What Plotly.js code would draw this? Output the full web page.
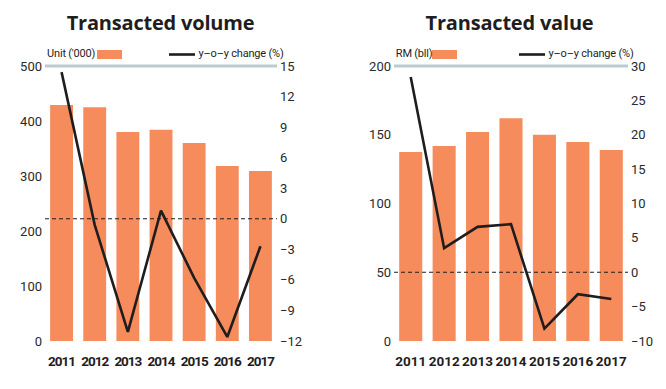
<!DOCTYPE html>
<html>
<head>
<meta charset="utf-8">
<script src="https://cdn.plot.ly/plotly-3.0.1.min.js"></script>
<style>
html,body{margin:0;padding:0;background:#fff;}
#chart{width:666px;height:389px;}
#chart .xtick text{letter-spacing:-1px;}
#chart .annotation-text{letter-spacing:-0.2px;}
</style>
</head>
<body>
<div id="chart"></div>
<script>
// Data
const years = ['2011','2012','2013','2014','2015','2016','2017'];
const volumeUnits = [429, 425, 380, 384, 360, 318, 309];
const volumeYoY = [14.4, -0.6, -11.1, 0.8, -5.8, -11.6, -2.7];
const valueRM = [137.5, 141.8, 152, 162, 150, 144.7, 139];
const valueYoY = [28.4, 3.5, 6.6, 7.0, -8.2, -3.2, -3.9];
const volTicksLeft = [0,100,200,300,400,500];
const volTicksRight = [-12,-9,-6,-3,0,3,6,9,12,15];
const valTicksLeft = [0,50,100,150,200];
const valTicksRight = [-10,-5,0,5,10,15,20,25,30];

const W = 666, H = 389;
const px = x => x / W;
const py = y => 1 - y / H;
const BAR = '#f68b5c';
const LINE = '#1f1d1e';
const tickFont = {family: 'Roboto, sans-serif', size: 13, color: '#2a2a2a'};
const yearFont = {family: 'Roboto, sans-serif', size: 13.5, color: '#1f1d1e', weight: 700};
const legFont = {family: 'Roboto, sans-serif', size: 11, color: '#1f1d1e'};
const yDom = [py(341), py(66)];

const fmt = v => v < 0 ? '\u2212' + Math.abs(v) : String(v);

const data = [
  {type:'bar', x: years, y: volumeUnits, xaxis:'x', yaxis:'y', marker:{color:BAR}, width:0.69},
  {type:'scatter', mode:'lines', x: years, y: volumeYoY, xaxis:'x', yaxis:'y2', line:{color:LINE, width:2.6}},
  {type:'bar', x: years, y: valueRM, xaxis:'x2', yaxis:'y3', marker:{color:BAR}, width:0.69},
  {type:'scatter', mode:'lines', x: years, y: valueYoY, xaxis:'x2', yaxis:'y4', line:{color:LINE, width:2.6}}
];

const xBase = {type:'category', showgrid:false, zeroline:false, showline:false, ticks:'', tickangle:0, tickfont:yearFont, ticklabelstandoff:10, fixedrange:true};
const yBase = {showgrid:false, zeroline:false, showline:false, ticks:'', tickfont:tickFont, fixedrange:true, domain:yDom};

const layout = {
  width: W, height: H,
  margin: {l:0, r:0, t:0, b:0},
  paper_bgcolor:'#fff', plot_bgcolor:'rgba(0,0,0,0)',
  showlegend:false, bargap:0.3,
  xaxis: Object.assign({}, xBase, {domain:[px(45), px(277)], anchor:'y'}),
  xaxis2: Object.assign({}, xBase, {domain:[px(394), px(628)], anchor:'y3'}),
  yaxis: Object.assign({}, yBase, {range:[0,500], tickvals:volTicksLeft, ticktext:volTicksLeft.map(fmt), anchor:'x', ticklabelstandoff:2}),
  yaxis2: Object.assign({}, yBase, {range:[-12,15], tickvals:volTicksRight, ticktext:volTicksRight.map(fmt), overlaying:'y', side:'right', anchor:'x', ticklabelstandoff:2}),
  yaxis3: Object.assign({}, yBase, {range:[0,200], tickvals:valTicksLeft, ticktext:valTicksLeft.map(fmt), anchor:'x2', ticklabelstandoff:2}),
  yaxis4: Object.assign({}, yBase, {range:[-10,30], tickvals:valTicksRight, ticktext:valTicksRight.map(fmt), overlaying:'y3', side:'right', anchor:'x2', ticklabelstandoff:2}),
  shapes: [
    {type:'line', xref:'x domain', yref:'y domain', x0:0, x1:1, y0:1, y1:1, line:{color:'#bccbd1', width:3}, layer:'below'},
    {type:'line', xref:'x2 domain', yref:'y3 domain', x0:0, x1:1, y0:1, y1:1, line:{color:'#bccbd1', width:3}, layer:'below'},
    {type:'line', xref:'x domain', yref:'y2', x0:0, x1:1, y0:0, y1:0, line:{color:'#1f1d1e', width:1, dash:'4px,3px'}, layer:'above'},
    {type:'line', xref:'x2 domain', yref:'y4', x0:0, x1:1, y0:0, y1:0, line:{color:'#1f1d1e', width:1, dash:'4px,3px'}, layer:'above'},
    {type:'rect', xref:'paper', yref:'paper', x0:px(97), x1:px(122), y0:py(59), y1:py(50), fillcolor:BAR, line:{width:0}},
    {type:'line', xref:'paper', yref:'paper', x0:px(169), x1:px(195), y0:py(54.5), y1:py(54.5), line:{color:LINE, width:2.6}},
    {type:'rect', xref:'paper', yref:'paper', x0:px(432), x1:px(457), y0:py(59), y1:py(50), fillcolor:BAR, line:{width:0}},
    {type:'line', xref:'paper', yref:'paper', x0:px(519), x1:px(545), y0:py(54.5), y1:py(54.5), line:{color:LINE, width:2.6}}
  ],
  annotations: [
    {text:'Transacted volume', xref:'paper', yref:'paper', x:px(160), y:py(22), xanchor:'center', yanchor:'middle', showarrow:false,
     font:{family:'"Open Sans", sans-serif', size:20, color:'#1f1d1e', weight:700}},
    {text:'Transacted value', xref:'paper', yref:'paper', x:px(510), y:py(22), xanchor:'center', yanchor:'middle', showarrow:false,
     font:{family:'"Open Sans", sans-serif', size:20, color:'#1f1d1e', weight:700}},
    {text:"Unit ('000)", xref:'paper', yref:'paper', x:px(44), y:py(53), xanchor:'left', yanchor:'middle', showarrow:false, font:legFont},
    {text:'y\u2013o\u2013y change (%)', xref:'paper', yref:'paper', x:px(195), y:py(53), xanchor:'left', yanchor:'middle', showarrow:false, font:legFont},
    {text:'RM (bll)', xref:'paper', yref:'paper', x:px(393), y:py(53), xanchor:'left', yanchor:'middle', showarrow:false, font:legFont},
    {text:'y\u2013o\u2013y change (%)', xref:'paper', yref:'paper', x:px(545), y:py(53), xanchor:'left', yanchor:'middle', showarrow:false, font:legFont}
  ]
};

Plotly.newPlot('chart', data, layout, {staticPlot:true, displayModeBar:false});
</script>
</body>
</html>
